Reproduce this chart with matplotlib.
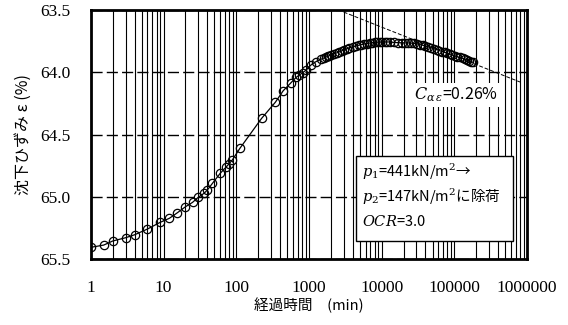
import numpy as np
import matplotlib.pyplot as plt
from matplotlib.patches import Rectangle
from matplotlib.ticker import FixedLocator, NullFormatter, LogLocator

plt.rcParams['font.family'] = ['Noto Sans CJK JP', 'DejaVu Sans']
plt.rcParams['mathtext.fontset'] = 'dejavuserif'

# elapsed time (min) and settlement strain (%)
time_min = [1, 1.5, 2, 3, 4, 6, 9, 12, 15.5, 20, 25, 30, 36, 40, 47, 60, 72, 79, 88,
            112, 223, 344, 442, 565, 665, 736, 815, 916, 1060, 1240, 1450,
            1600, 1700, 1800, 1900, 2000, 2200, 2400, 2600, 2800, 3000, 3300, 3600,
            4000, 4400, 4800, 5200, 5700, 6200, 6800, 7400, 8000, 8700, 9400, 10200,
            11000, 12000, 13000, 15000, 17000, 19000, 21000, 23000, 25000, 28000,
            31000, 34000, 37000, 40000, 44000, 48000, 52000, 57000, 62000, 68000,
            74000, 80000, 87000, 94000, 102000, 110000, 120000, 130000, 140000,
            150000, 160000, 170000, 180000]
strain = [65.406, 65.388, 65.355, 65.329, 65.305, 65.259, 65.205, 65.173, 65.128, 65.08,
          65.045, 65.004, 64.972, 64.946, 64.892, 64.812, 64.763, 64.737, 64.705,
          64.611, 64.37, 64.241, 64.148, 64.084, 64.041, 64.022, 64.004, 63.982, 63.942,
          63.915, 63.896,
          63.885, 63.878, 63.872, 63.866, 63.861, 63.852, 63.844, 63.836, 63.828, 63.82,
          63.811, 63.803, 63.795, 63.789, 63.783, 63.778, 63.773, 63.769, 63.765, 63.762,
          63.76, 63.758, 63.757, 63.756, 63.756, 63.756, 63.757, 63.76, 63.762, 63.763,
          63.764, 63.764, 63.765, 63.768, 63.772, 63.778, 63.783, 63.789, 63.796,
          63.803, 63.81, 63.818, 63.825, 63.833, 63.84, 63.847, 63.853, 63.86, 63.867,
          63.874, 63.881, 63.888, 63.894, 63.9, 63.907, 63.914, 63.92]

# secondary compression line (C_alpha_epsilon)
ca_time = [3000, 800000]
ca_strain = [63.516, 64.078]

x_ticks = [1, 10, 100, 1000, 10000, 100000, 1000000]
x_labels = ['1', '10', '100', '1000', '10000', '100000', '1000000']
y_ticks = [63.5, 64.0, 64.5, 65.0, 65.5]
y_labels = ['63.5', '64.0', '64.5', '65.0', '65.5']

tick_font = ['Liberation Serif', 'DejaVu Serif']

fig = plt.figure(figsize=(5.68, 3.25), dpi=100)
ax = fig.add_axes([0.160, 0.203, 0.768, 0.766])

ax.plot(time_min, strain, color='black', lw=0.9, marker='o', ms=6,
        mfc='none', mec='black', mew=0.9, zorder=3)
ax.plot(ca_time, ca_strain, color='black', lw=0.7, ls=(0, (4, 2)), zorder=2)

ax.set_xscale('log')
ax.set_xlim(1, 1e6)
ax.set_ylim(65.5, 63.5)

ax.xaxis.set_major_locator(FixedLocator(x_ticks))
ax.set_xticklabels(x_labels, family=tick_font, fontsize=12.5)
ax.xaxis.set_minor_locator(LogLocator(base=10, subs=np.arange(2, 10)))
ax.xaxis.set_minor_formatter(NullFormatter())
ax.set_yticks(y_ticks)
ax.set_yticklabels(y_labels, family=tick_font, fontsize=12.5)

ax.grid(axis='x', which='both', color='black', lw=0.8, ls='-')
ax.grid(axis='y', which='major', color='black', lw=1.0, ls=(0, (8, 3)))
ax.tick_params(which='both', length=0)
ax.tick_params(axis='y', pad=15)
ax.tick_params(axis='x', pad=15)
for s in ax.spines.values():
    s.set_linewidth(2)

ax.set_xlabel('経過時間　(min)', fontsize=10.5, labelpad=1)
ax.set_ylabel('沈下ひずみ ε (%)', fontsize=11.5, labelpad=6)

ax.text(0.74, 0.66, r'$C_{\alpha\,\varepsilon}$=0.26%', transform=ax.transAxes,
        fontsize=11.5, va='center', ha='left',
        bbox=dict(facecolor='white', edgecolor='none', pad=2), zorder=4)

box = Rectangle((0.608, 0.072), 0.36, 0.342, transform=ax.transAxes,
                facecolor='white', edgecolor='black', lw=1.0, zorder=4)
ax.add_patch(box)
ax.text(0.621, 0.349, r'$p_1$=441kN/m$^2$→', transform=ax.transAxes,
        fontsize=10.5, va='center', zorder=5)
ax.text(0.621, 0.249, r'$p_2$=147kN/m$^2$に除荷', transform=ax.transAxes,
        fontsize=10.5, va='center', zorder=5)
ax.text(0.621, 0.149, r'$OCR$=3.0', transform=ax.transAxes,
        fontsize=10.5, va='center', zorder=5)

fig.savefig('out.png', dpi=100)
